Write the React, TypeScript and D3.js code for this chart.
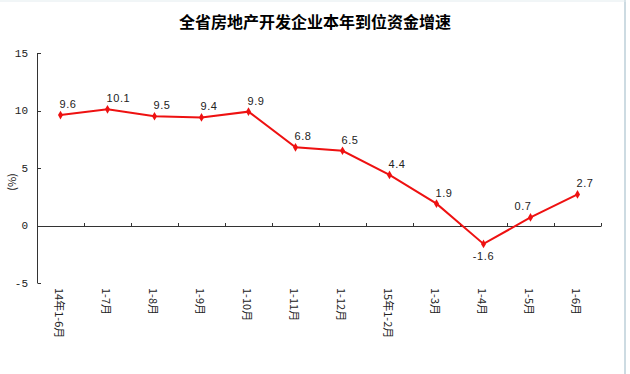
import React from "react";
import * as d3 from "d3";

const months = ["14年1-6月", "1-7月", "1-8月", "1-9月", "1-10月", "1-11月", "1-12月", "15年1-2月", "1-3月", "1-4月", "1-5月", "1-6月"];
const growth = [9.6, 10.1, 9.5, 9.4, 9.9, 6.8, 6.5, 4.4, 1.9, -1.6, 0.7, 2.7];
const yTicks = [-5, 0, 5, 10, 15];

const W = 630;
const H = 374;
const cjk = "SimSun, 'Noto Sans CJK SC', sans-serif";
const mono = "'Liberation Mono', 'DejaVu Sans Mono', monospace";
const sans = "'Liberation Sans', Arial, sans-serif";

export default function App() {
  const x = d3.scaleBand<string>().domain(months).range([37, 601]);
  const y = d3.scaleLinear().domain([-5, 15]).range([283, 53]);
  const cx = (m: string) => (x(m) as number) + x.bandwidth() / 2;

  const line = d3.line<number>()
    .x((d, i) => cx(months[i]))
    .y((d) => y(d));

  const diamond = d3.symbol().type(d3.symbolDiamond).size(22)();

  return (
    <svg width={W} height={H} style={{ position: "absolute", left: 0, top: 0, background: "#fff" }}>
      <line x1={625} x2={625} y1={0} y2={H} stroke="#cddbe2" strokeWidth={2} />
      <line x1={0} x2={626} y1={1} y2={1} stroke="#e3ecef" />

      <text x={315} y={28} textAnchor="middle" fontFamily={cjk} fontSize={16} fontWeight="bold" fill="#000">
        全省房地产开发企业本年到位资金增速
      </text>

      {/* y axis */}
      <line x1={37.5} x2={37.5} y1={y(15)} y2={y(-5)} stroke="#333" />
      {yTicks.map((t) => (
        <g key={t}>
          <line x1={37.5} x2={41} y1={Math.round(y(t)) + 0.5} y2={Math.round(y(t)) + 0.5} stroke="#333" />
          <text x={28} y={y(t)} dy="0.35em" textAnchor="end" fontFamily={mono} fontSize={11} fill="#222">
            {t}
          </text>
        </g>
      ))}
      <text transform={`translate(16,${y(5) + 14}) rotate(-90)`} textAnchor="middle" fontFamily={cjk} fontSize={11} fill="#222">
        (%)
      </text>

      {/* zero line and category ticks */}
      <line x1={37} x2={601} y1={Math.round(y(0)) + 0.5} y2={Math.round(y(0)) + 0.5} stroke="#333" />
      {months.map((m) => (
        <line key={m} x1={(x(m) as number) + x.bandwidth() + 0.5} x2={(x(m) as number) + x.bandwidth() + 0.5}
          y1={Math.round(y(0)) + 0.5} y2={Math.round(y(0)) - 3} stroke="#333" />
      ))}

      {/* category labels */}
      {months.map((m) => (
        <text key={m} transform={`translate(${cx(m) - 6},288) rotate(90)`} fontFamily={cjk} fontSize={11} fill="#222">
          {m}
        </text>
      ))}

      <path d={line(growth) || ""} fill="none" stroke="#ee1111" strokeWidth={2} />
      {growth.map((v, i) => (
        <path key={i} d={diamond || ""} transform={`translate(${cx(months[i])},${y(v)})`} fill="#ee1111" />
      ))}

      {growth.map((v, i) => {
        const px = cx(months[i]);
        const py = y(v);
        if (v < 0) {
          return (
            <text key={i} x={px} y={py + 16} textAnchor="middle" fontFamily={sans} fontSize={11} letterSpacing={0.6} fill="#222">{v}</text>
          );
        }
        const prev = growth[i - 1];
        const next = growth[i + 1];
        const left = prev !== undefined && next !== undefined && prev < v && next > v;
        return (
          <text key={i} x={left ? px - 16 : px - 1} y={py - 7} fontFamily={sans} fontSize={11} letterSpacing={0.6} fill="#222">
            {v.toFixed(1)}
          </text>
        );
      })}
    </svg>
  );
}
